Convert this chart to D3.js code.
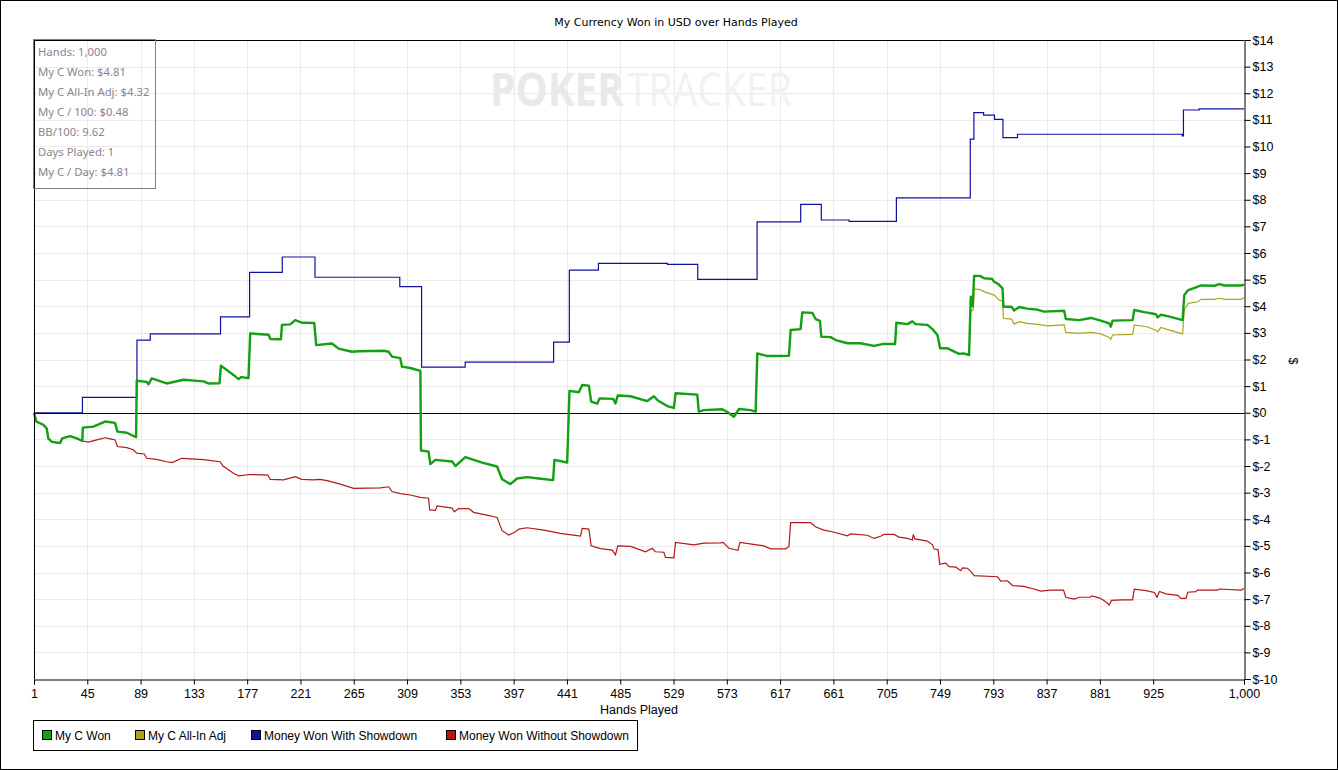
<!DOCTYPE html>
<html>
<head>
<meta charset="utf-8">
<script src="https://cdn.jsdelivr.net/npm/d3@7"></script>
<style>
  body { margin: 0; background: #fff; }
  .tick text { font-family: "Liberation Sans Narrow", "Liberation Sans", Arial, sans-serif; font-size: 12.5px; fill: #000; }
  .grid line { stroke: #ebebeb; stroke-width: 1px; }
  .info text { font-family: "Noto Sans", sans-serif; font-size: 11.3px; fill: #8a8490; }
  .legend text { font-family: "Liberation Sans Narrow", "Liberation Sans", Arial, sans-serif; font-size: 12px; fill: #000; }
</style>
</head>
<body>
<script>
// chart values: [hand, dollars]
const handTicks = [1, 45, 89, 133, 177, 221, 265, 309, 353, 397, 441, 485, 529, 573, 617, 661, 705, 749, 793, 837, 881, 925, 1000];
const dollarTicks = [-10, -9, -8, -7, -6, -5, -4, -3, -2, -1, 0, 1, 2, 3, 4, 5, 6, 7, 8, 9, 10, 11, 12, 13, 14];

const infoLines = ["Hands: 1,000", "My C Won: $4.81", "My C All-In Adj: $4.32", "My C / 100: $0.48",
  "BB/100: 9.62", "Days Played: 1", "My C / Day: $4.81"];

const legendNames = ["My C Won", "My C All-In Adj", "Money Won With Showdown", "Money Won Without Showdown"];
const legendColors = ["#14a014", "#aca418", "#1010a0", "#b41818"];

// step changes for the showdown line
const withShowdown = [
  [1, 0], [41, 0.58], [86, 2.73], [97, 2.96], [155, 3.6], [179, 5.27], [206, 5.85], [233, 5.09],
  [303, 4.74], [321, 1.71], [357, 1.9], [430, 2.65], [443, 5.36], [467, 5.61], [524, 5.57],
  [549, 5.01], [598, 7.17], [634, 7.83], [651, 7.24], [674, 7.19], [713, 8.07], [774, 10.28],
  [777, 11.27], [785, 11.18], [794, 11.02], [801, 10.33], [813, 10.46], [949, 10.4], [950, 11.37],
  [963, 11.41], [1000, 11.41]
];

const won = [
  [1, 0], [3, -0.33], [8.7, -0.45], [11.5, -0.59], [12.8, -0.96], [15.6, -1.09], [22.5, -1.14],
  [24.4, -0.96], [30.7, -0.88], [36.3, -0.96], [40.9, -1.06],
  [41.3, -0.56], [50, -0.52], [59.7, -0.33], [67.9, -0.38], [69.9, -0.71], [77.6, -0.75], [85.3, -0.92],
  [85.8, 1.2], [94.1, 1.16], [95.5, 1.07], [98.2, 1.29], [110.6, 1.1], [124.4, 1.24], [140.9, 1.18],
  [145, 1.1], [154.2, 1.11],
  [155.3, 1.77], [165.7, 1.42], [169.9, 1.26], [172, 1.34], [178.1, 1.3],
  [179.5, 2.98], [194.7, 2.93], [196.1, 2.77], [204.9, 2.76],
  [205.7, 3.3], [212.5, 3.32], [216.7, 3.48], [222.2, 3.38], [232.4, 3.37],
  [234, 2.54], [242.8, 2.58], [247, 2.6], [252.5, 2.41], [263.5, 2.29], [269, 2.31], [289.6, 2.33],
  [293.8, 2.29], [296.6, 2.11], [303.4, 2.05], [304.8, 1.73], [311.7, 1.68], [320, 1.57],
  [320.5, -1.42], [326.8, -1.46], [328.2, -1.93], [332.4, -1.77], [346.2, -1.83], [349, -2.0],
  [357.1, -1.67], [371, -1.87], [383.3, -2.02], [387.5, -2.5], [394.3, -2.68], [399.8, -2.47],
  [408.1, -2.42], [417.7, -2.47], [429.6, -2.53],
  [430.7, -1.77], [441.2, -1.87],
  [443.1, 0.82], [450.8, 0.77], [453.6, 1.04], [459.1, 1.02], [461, 0.42], [466, 0.34], [467.9, 0.54],
  [479.2, 0.52], [481.1, 0.35], [483, 0.65], [493.5, 0.62], [507.3, 0.44], [512.8, 0.62], [516.1, 0.46],
  [523.8, 0.25], [529.3, 0.18],
  [530.7, 0.73], [548.6, 0.68], [549.9, 0.04], [554, 0.1], [569.2, 0.13], [573.4, 0.03], [578.8, -0.15],
  [583, 0.14], [592.6, 0.1], [596.8, 0.04],
  [598.2, 2.23], [606.4, 2.13], [624.3, 2.14],
  [625.7, 3.11], [633.9, 3.14], [635.3, 3.77], [643.6, 3.75], [646.3, 3.52], [649.9, 3.45],
  [651, 2.86], [658.7, 2.84], [662.9, 2.73], [672.5, 2.61], [683.5, 2.61], [694.5, 2.51], [701.4, 2.58],
  [711.9, 2.58],
  [713, 3.38], [722.1, 3.33], [726.2, 3.43], [728.9, 3.33], [738.6, 3.3], [742.8, 3.14], [746.9, 2.92],
  [749.1, 2.42], [755.2, 2.42], [764.8, 2.21], [768.4, 2.23], [773, 2.17],
  [774.4, 4.36], [776, 4.0], [777.2, 5.14], [782, 5.14], [785.4, 5.05], [792, 5.03], [793.7, 4.92],
  [797, 4.84], [800.6, 4.67],
  [801.4, 3.98], [808, 3.98], [810.2, 3.84], [814.4, 3.97], [821, 3.91], [828.2, 3.88], [835, 3.8],
  [851.5, 3.83],
  [852.9, 3.52], [863.9, 3.48], [873.6, 3.56], [881.8, 3.46], [888.7, 3.36], [890, 3.23], [891.5, 3.46],
  [908, 3.48],
  [909.4, 3.86], [917.6, 3.78], [920.4, 3.76], [927.3, 3.7], [928.7, 3.58], [931.4, 3.68], [937, 3.63],
  [949.3, 3.48],
  [950.7, 4.42], [954, 4.61], [960.3, 4.71], [964.5, 4.78], [975.5, 4.77], [979.6, 4.83], [983.8, 4.78],
  [997.5, 4.78], [1000, 4.81]
];

// all-in adjusted splits from won after hand 773
const allInAdjLate = [
  [774.4, 3.8], [776.5, 3.86], [777.2, 4.65], [782, 4.63], [785.4, 4.55], [793.7, 4.42], [798, 4.23],
  [800.6, 4.2], [801.4, 3.55], [808, 3.52], [810.2, 3.33], [814.4, 3.42], [821, 3.36], [828.2, 3.33],
  [837.8, 3.26], [851.5, 3.3], [852.9, 3.02], [863.9, 2.98], [873.6, 3.02], [881.8, 2.96], [888.7, 2.83],
  [890, 2.76], [891.5, 2.92], [908, 2.94], [909.4, 3.3], [920.4, 3.22], [927.3, 3.1], [928.7, 3.05],
  [931.4, 3.2], [937, 3.12], [949.3, 2.96], [950.7, 3.86], [954, 4.11], [962, 4.17], [964.5, 4.26],
  [975.5, 4.26], [979.6, 4.3], [983.8, 4.26], [997.5, 4.26], [1000, 4.32]
];

// without showdown runs under "won" until the first showdown at hand 41
const withoutShowdownLate = [
  [45.9, -1.1], [52.8, -1.02], [59.7, -0.94], [64, -0.98], [67.9, -1.02], [69.9, -1.27], [77.6, -1.31],
  [83, -1.39], [85.8, -1.52], [92, -1.55], [94.1, -1.71], [102, -1.75], [110.6, -1.84], [115, -1.87],
  [123, -1.71], [141, -1.76], [154.7, -1.84], [157, -2.0], [165.7, -2.27], [169.9, -2.37], [179.5, -2.32],
  [194, -2.34], [196, -2.5], [207, -2.52], [216.7, -2.4], [222, -2.5], [231.5, -2.52], [237, -2.5],
  [243, -2.55], [253.8, -2.68], [264.9, -2.84], [286.9, -2.82], [293.8, -2.78], [296.6, -2.96],
  [303.4, -3.04], [311.7, -3.09], [320, -3.18], [326.8, -3.21], [327.7, -3.65], [332.4, -3.67],
  [333.8, -3.5], [346.2, -3.58], [348, -3.72], [351.6, -3.6], [360, -3.6], [364, -3.74], [377.8, -3.87],
  [383.3, -3.93], [387.5, -4.43], [393, -4.59], [398.5, -4.47], [401.2, -4.37], [408.1, -4.32],
  [421.9, -4.41], [435.6, -4.53], [452.2, -4.63], [453.6, -4.34], [459.1, -4.37], [461, -5.0],
  [468.7, -5.1], [478.4, -5.16], [481.1, -5.34], [483, -5.0], [493.5, -5.02], [505.9, -5.22],
  [511.4, -5.09], [514, -5.22], [521, -5.24], [522.4, -5.43], [529.3, -5.45], [530.7, -4.87],
  [545.8, -4.96], [554, -4.9], [567.9, -4.89], [570, -4.87], [574.7, -5.09], [582.2, -5.17],
  [583.8, -4.87], [603.6, -5.0], [609, -5.11], [621.5, -5.11], [624.3, -5.02], [625.7, -4.13],
  [642.2, -4.13], [646.3, -4.28], [653, -4.41], [660.1, -4.47], [672.5, -4.62], [675.2, -4.55],
  [689, -4.6], [694.5, -4.72], [700, -4.64], [702.8, -4.57], [711, -4.57], [715.2, -4.67], [722.1, -4.72],
  [726.2, -4.78], [727, -4.57], [728.2, -4.74], [738.6, -4.82], [742.8, -4.96], [744.1, -5.12],
  [747.4, -5.14], [748.8, -5.69], [753.8, -5.65], [756.5, -5.78], [762.1, -5.8], [766.2, -5.93],
  [767.6, -5.83], [771.7, -5.84], [774.4, -5.96], [777.2, -6.12], [796.5, -6.16], [799.2, -6.32],
  [804.7, -6.31], [808.9, -6.49], [818.5, -6.52], [821.2, -6.56], [825.4, -6.6], [832.3, -6.7],
  [840.5, -6.66], [851, -6.66], [852.9, -6.93], [859.8, -7.0], [864, -6.93], [873.1, -6.93],
  [874.1, -6.88], [880.5, -6.95], [885.9, -7.1], [888.7, -7.22], [890.6, -7.05], [899.8, -7.03],
  [908, -7.03], [909.4, -6.63], [919.1, -6.68], [926, -6.75], [928.2, -6.93], [930.2, -6.71],
  [935.6, -6.8], [945.3, -6.86], [947.9, -6.97], [952.2, -6.97], [953.5, -6.74], [960.3, -6.72],
  [961.7, -6.66], [978.2, -6.66], [979.6, -6.62], [997.5, -6.66], [1000, -6.6]
];

const allInAdj = won.filter(d => d[0] <= 773).concat(allInAdjLate);
const withoutShowdown = won.filter(d => d[0] <= 41).concat(withoutShowdownLate);

const width = 1338, height = 770;
const plotLeft = 34, plotRight = 1244, plotTop = 40, plotBottom = 679;

const svg = d3.select("body").append("svg")
  .attr("width", width)
  .attr("height", height)
  .attr("xmlns", "http://www.w3.org/2000/svg");

// outer frame
svg.append("rect")
  .attr("x", 0.5).attr("y", 0.5)
  .attr("width", width - 1).attr("height", height - 1)
  .attr("fill", "#fff").attr("stroke", "#000");

const x = d3.scaleLinear().domain([1, 1000]).range([plotLeft, plotRight]);
const y = d3.scaleLinear().domain([-10, 14]).range([plotBottom, plotTop]);

// grid
const grid = svg.append("g").attr("class", "grid");
grid.selectAll("line.v").data(handTicks.slice(1, -1)).enter().append("line")
  .attr("x1", d => Math.round(x(d)) + 0.5).attr("x2", d => Math.round(x(d)) + 0.5)
  .attr("y1", plotTop).attr("y2", plotBottom);
grid.selectAll("line.h").data(dollarTicks.slice(1, -1)).enter().append("line")
  .attr("x1", plotLeft).attr("x2", plotRight)
  .attr("y1", d => Math.round(y(d)) + 0.5).attr("y2", d => Math.round(y(d)) + 0.5);

// watermark, two words side by side
const markFont = "'Open Sans', sans-serif";
svg.append("text")
  .attr("x", 490).attr("y", 106)
  .attr("textLength", 134).attr("lengthAdjust", "spacingAndGlyphs")
  .attr("fill", "#e9e9e9")
  .style("font-family", markFont).style("font-size", "46px").style("font-weight", "bold")
  .text("POKER");
svg.append("text")
  .attr("x", 627).attr("y", 106)
  .attr("textLength", 165).attr("lengthAdjust", "spacingAndGlyphs")
  .attr("fill", "#f1f1f1")
  .style("font-family", markFont).style("font-size", "46px")
  .text("TRACKER");

// zero line
svg.append("line")
  .attr("x1", plotLeft).attr("x2", plotRight)
  .attr("y1", Math.round(y(0)) + 0.5).attr("y2", Math.round(y(0)) + 0.5)
  .attr("stroke", "#000");

const line = d3.line().x(d => x(d[0])).y(d => y(d[1]));
const stepLine = d3.line().x(d => x(d[0])).y(d => y(d[1])).curve(d3.curveStepAfter);

svg.append("path").attr("d", line(withoutShowdown))
  .attr("fill", "none").attr("stroke", legendColors[3]).attr("stroke-width", 1.2);
svg.append("path").attr("d", stepLine(withShowdown))
  .attr("fill", "none").attr("stroke", legendColors[2]).attr("stroke-width", 1.2);
svg.append("path").attr("d", line(allInAdj))
  .attr("fill", "none").attr("stroke", legendColors[1]).attr("stroke-width", 1.2);
svg.append("path").attr("d", line(won))
  .attr("fill", "none").attr("stroke", legendColors[0]).attr("stroke-width", 2.4)
  .attr("stroke-linejoin", "round");

// plot frame
svg.append("line").attr("x1", plotLeft + 0.5).attr("x2", plotLeft + 0.5).attr("y1", plotTop).attr("y2", plotBottom)
  .attr("stroke", "#000");
svg.append("line").attr("x1", plotLeft).attr("x2", plotRight).attr("y1", plotTop + 0.5).attr("y2", plotTop + 0.5)
  .attr("stroke", "#000");

// axes
const xAxis = d3.axisBottom(x)
  .tickValues(handTicks)
  .tickSize(5)
  .tickFormat(d3.format(","));
svg.append("g")
  .attr("transform", `translate(0,${plotBottom + 0.5})`)
  .call(xAxis)
  .call(g => g.selectAll("text").attr("dy", "0.85em"));

const yAxis = d3.axisRight(y)
  .tickValues(dollarTicks)
  .tickSize(6)
  .tickFormat(d => "$" + d);
svg.append("g")
  .attr("transform", `translate(${plotRight + 0.5},0)`)
  .call(yAxis)
  .call(g => g.selectAll("text").attr("x", 8));

svg.selectAll(".domain").attr("stroke", "#000");
svg.selectAll(".tick line").attr("stroke", "#000");

// titles
svg.append("text")
  .attr("x", 676).attr("y", 26)
  .attr("text-anchor", "middle")
  .style("font-family", "'DejaVu Sans', sans-serif")
  .style("font-size", "11px")
  .text("My Currency Won in USD over Hands Played");

svg.append("text")
  .attr("x", 639).attr("y", 714)
  .attr("text-anchor", "middle")
  .style("font-family", "'Liberation Sans Narrow', 'Liberation Sans', Arial, sans-serif")
  .style("font-size", "12.5px")
  .text("Hands Played");

svg.append("text")
  .attr("transform", "translate(1289,361) rotate(90)")
  .attr("text-anchor", "middle")
  .style("font-family", "'Liberation Sans Narrow', 'Liberation Sans', Arial, sans-serif")
  .style("font-size", "12.5px")
  .text("$");

// stats box
const info = svg.append("g").attr("class", "info");
info.append("rect")
  .attr("x", 33.5).attr("y", 39.5).attr("width", 122).attr("height", 149)
  .attr("fill", "none").attr("stroke", "#808080");
info.selectAll("text").data(infoLines).enter().append("text")
  .attr("x", 38).attr("y", (d, i) => 56 + i * 20)
  .text(d => d);

// legend
const legendX = [42, 135, 251, 446];
const legend = svg.append("g").attr("class", "legend");
legend.append("rect")
  .attr("x", 33.5).attr("y", 720.5).attr("width", 604).attr("height", 30)
  .attr("fill", "#fff").attr("stroke", "#000");
const items = legend.selectAll("g.item").data(legendNames).enter().append("g")
  .attr("transform", (d, i) => `translate(${legendX[i]},730)`);
items.append("rect")
  .attr("x", 0.5).attr("y", 0.5).attr("width", 9).attr("height", 9)
  .attr("fill", (d, i) => legendColors[i]).attr("stroke", "#000");
items.append("text")
  .attr("x", 13).attr("y", 10)
  .text(d => d);
</script>
</body>
</html>
